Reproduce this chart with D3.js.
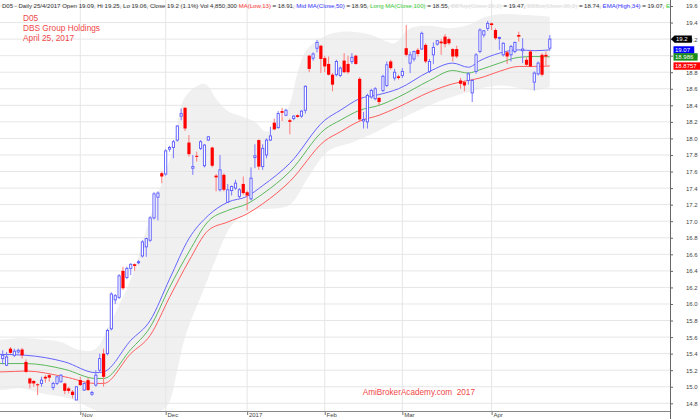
<!DOCTYPE html>
<html><head><meta charset="utf-8">
<script src="https://cdn.jsdelivr.net/npm/d3@7"></script>
<style>body{margin:0;background:#fff}svg{display:block;font-family:"Liberation Sans",Arial,sans-serif}</style>
</head><body><svg id="c" width="700" height="419"></svg>
<script>
// ---------- data ----------
const opens  = [15.34,15.26,15.46,15.38,15.42,15.45,15.30,15.10,15.07,15.03,15.04,15.12,15.14,14.99,15.04,15.06,15.04,14.98,14.94,14.84,
15.08,14.96,15.08,14.91,15.02,15.20,15.40,15.40,15.70,16.05,16.08,16.40,16.32,16.43,16.48,16.50,16.58,16.69,16.77,17.04,17.29,17.58,
17.57,17.87,17.89,17.98,18.27,18.37,17.95,17.64,17.79,17.88,17.67,17.98,17.89,17.55,17.38,17.56,17.23,17.37,17.40,17.30,17.45,
17.35,17.27,17.77,17.98,17.66,17.80,17.98,18.19,18.13,18.33,18.28,18.22,18.24,18.28,18.27,18.34,19.00,18.97,19.09,19.12,
18.97,18.90,18.77,18.77,18.76,18.94,18.90,18.93,19.00,18.72,18.21,18.20,18.50,18.48,18.49,18.58,18.64,18.93,18.73,18.75,
18.76,19.09,18.91,18.96,19.07,19.08,19.13,18.81,19.01,19.14,19.17,19.23,19.20,19.08,19.08,18.70,18.68,18.70,18.55,18.81,19.05,19.25,19.33,
19.39,19.31,19.21,19.01,19.04,19.01,19.05,19.25,19.06,18.95,19.05,18.68,18.78,19.01,19.01,19.09];
const highs  = [15.44,15.42,15.48,15.46,15.46,15.47,15.33,15.11,15.08,15.04,15.12,15.14,15.16,15.06,15.13,15.15,15.05,15.00,14.96,15.01,
15.12,15.05,15.11,14.95,15.20,15.40,15.46,15.70,16.14,16.12,16.36,16.45,16.45,16.49,16.49,16.53,16.77,16.80,17.06,17.35,17.36,17.60,
17.87,17.91,17.98,18.16,18.36,18.38,18.04,17.80,17.84,17.98,17.93,18.03,17.90,17.57,17.80,17.58,17.45,17.43,17.50,17.40,17.54,
17.37,17.65,17.93,17.99,17.93,18.00,18.14,18.24,18.33,18.37,18.36,18.24,18.28,18.29,18.34,18.64,19.01,19.04,19.19,19.13,
19.00,18.99,18.79,18.95,18.87,19.03,19.00,19.03,19.01,18.74,18.32,18.54,18.60,18.62,18.50,18.77,18.93,18.95,18.84,18.77,
18.85,19.37,19.05,19.06,19.09,19.29,19.15,18.96,19.16,19.19,19.20,19.26,19.22,19.09,19.12,18.73,18.70,18.80,18.72,19.03,19.33,19.31,19.42,
19.40,19.33,19.23,19.16,19.06,19.13,19.17,19.29,19.21,18.98,19.07,18.81,18.93,19.03,19.05,19.25];
const lows   = [15.27,15.25,15.40,15.36,15.40,15.34,15.17,14.98,15.00,14.90,15.00,15.05,15.06,14.96,15.02,15.05,14.91,14.92,14.86,14.84,
15.01,14.95,14.95,14.89,15.00,15.18,15.00,15.38,15.68,16.00,16.06,16.17,16.30,16.35,16.40,16.48,16.56,16.57,16.75,17.02,17.01,17.46,
17.55,17.84,17.76,17.96,18.22,18.09,17.78,17.56,17.72,17.86,17.65,17.97,17.65,17.36,17.36,17.36,17.22,17.31,17.38,17.28,17.32,
17.13,17.25,17.64,17.62,17.62,17.76,17.97,18.10,18.12,18.21,18.27,18.05,18.22,18.25,18.25,18.30,18.80,18.94,19.04,18.79,
18.80,18.76,18.57,18.75,18.74,18.79,18.78,18.90,18.89,18.20,18.12,18.12,18.48,18.46,18.40,18.56,18.62,18.83,18.70,18.71,
18.73,18.99,18.79,18.93,18.99,19.07,18.91,18.79,18.90,19.12,19.01,19.10,19.13,18.93,18.97,18.60,18.57,18.65,18.44,18.78,19.03,19.22,19.30,
19.31,19.19,19.07,18.99,18.90,18.93,19.03,19.17,18.91,18.87,18.86,18.58,18.76,18.75,18.88,19.06];
const closes = [15.38,15.36,15.41,15.43,15.44,15.38,15.18,15.04,15.04,15.02,15.08,15.10,15.11,15.04,15.12,15.14,14.95,14.95,14.90,15.00,
15.02,15.04,14.96,14.93,15.14,15.34,15.12,15.68,16.12,16.10,16.34,16.19,16.43,16.48,16.46,16.51,16.75,16.79,17.04,17.33,17.34,17.54,
17.85,17.89,17.96,18.15,18.30,18.12,17.81,17.66,17.78,17.96,17.92,18.02,17.67,17.53,17.62,17.38,17.38,17.42,17.46,17.38,17.34,
17.31,17.52,17.79,17.66,17.88,17.98,18.03,18.11,18.30,18.31,18.34,18.20,18.27,18.26,18.33,18.63,18.84,19.02,19.16,18.96,
18.87,18.77,18.65,18.93,18.85,18.80,18.80,18.98,18.90,18.23,18.23,18.52,18.58,18.60,18.44,18.75,18.89,18.85,18.80,18.73,
18.81,19.01,19.01,19.05,19.02,19.27,18.93,18.93,19.10,19.18,19.15,19.14,19.15,18.99,18.99,18.66,18.64,18.78,18.70,19.01,19.31,19.30,19.39,
19.37,19.21,19.22,19.15,18.99,19.11,19.16,19.23,19.08,18.89,18.87,18.79,18.91,18.77,18.99,19.20];

const monthIdx    = [20, 42, 63, 83, 103, 126];
const monthLabels = ["Nov", "Dec", "2017", "Feb", "Mar", "Apr"];
const yTicks = [19.6,19.4,19.2,19.0,18.8,18.6,18.4,18.2,18.0,17.8,17.6,17.4,17.2,17.0,16.8,16.6,16.4,16.2,16.0,15.8,15.6,15.4,15.2,15.0,14.8];

// EMA channel lines (sampled at bar indices)
const lineIdx  = [-1,0,6,16,24,26,33,38,43,48,53,58,63,67,74,83,87,92,97,102,110,116,120,123,128,133,137,141];
const emaHigh  = [15.39,15.39,15.38,15.30,15.17,15.18,15.56,15.80,16.30,16.79,17.07,17.23,17.30,17.43,17.70,18.22,18.34,18.48,18.53,18.60,18.81,18.91,18.86,18.94,19.03,19.07,19.06,19.07];
const emaClose = [15.28,15.28,15.28,15.21,15.10,15.10,15.45,15.72,16.20,16.63,17.00,17.13,17.21,17.33,17.60,18.11,18.22,18.34,18.40,18.50,18.70,18.82,18.79,18.83,18.91,18.98,18.99,18.986];
const emaLow   = [15.18,15.18,15.19,15.12,15.04,15.04,15.40,15.62,16.08,16.52,16.89,16.99,17.09,17.21,17.48,17.97,18.08,18.21,18.28,18.38,18.56,18.66,18.70,18.73,18.81,18.87,18.87,18.8757];

// Bollinger band edges (sampled at bar indices)
const bbTopIdx = [-1,0,5,10,15,20,24,28,33,38,44,47,52,55,58,62,65,68,71,74,76,78,81,85,90,95,99,101,105,110,115,120,124,128,135,141];
const bbTop    = [15.57,15.57,15.59,15.57,15.54,15.44,15.46,15.80,16.30,17.05,17.90,18.50,18.66,18.48,18.33,18.26,18.20,18.08,18.18,18.42,18.80,19.05,19.18,19.27,19.29,19.25,19.17,19.15,19.33,19.36,19.33,19.37,19.46,19.50,19.49,19.47];
const bbBotIdx = [-1,0,5,10,17,20,25,35,42,45,47,52,55,59,64,69,74,79,84,90,95,102,111,120,128,137,141];
const bbBot    = [14.96,14.96,14.98,14.92,14.86,14.80,14.70,14.65,14.75,15.20,15.60,16.20,16.55,16.95,17.13,17.15,17.20,17.55,17.85,17.95,18.05,18.22,18.42,18.56,18.64,18.58,18.62];

const badgeVals   = [19.2, 19.07, 18.986, 18.8757];
const badgeLabels = ["19.2", "19.07", "18.986", "18.8757"];

const headerParts = [
  ["D05 - Daily 25/4/2017 Open 19.09, Hi 19.25, Lo 19.06, Close 19.2 (1.1%) Vol 4,850,300 ", "#333"],
  ["MA(Low,13)", "#ff4040"], [" = 18.91, ", "#333"],
  ["Mid MA(Close,50)", "#4040ff"], [" = 18.95, ", "#333"],
  ["Long MA(Close,100)", "#40d040"], [" = 18.55, ", "#333"],
  ["BBTop(Close,20,2)", "#dedede"], [" = 19.47, ", "#333"],
  ["BBBot(Close,20,2)", "#dedede"], [" = 18.74, ", "#333"],
  ["EMA(High,34)", "#4040ff"], [" = 19.07, ", "#333"],
  ["EMA1(", "#40d040"]
];

// ---------- drawing ----------
const W = 670, H = 411;
const svg = d3.select("#c");
const x = d3.scaleLinear().domain([0, 141]).range([2.7, 549.8]);
const y = d3.scaleLinear().domain([14.8, 19.6]).range([403.3, 6]);

svg.append("defs").append("clipPath").attr("id", "plot")
  .append("rect").attr("x", 0).attr("y", 0).attr("width", W).attr("height", H);

const plot = svg.append("g").attr("clip-path", "url(#plot)");

// Bollinger band fill
const topPts = bbTopIdx.map((d, i) => [x(d), y(bbTop[i])]);
const botPts = bbBotIdx.map((d, i) => [x(d), y(bbBot[i])]).reverse();
const cr = d3.line().curve(d3.curveCatmullRom.alpha(0.5));
const bandPath = cr(topPts) + "L" + cr(botPts).slice(1) + "Z";
plot.append("path").attr("d", bandPath).attr("fill", "#f0f0f0");

// gridlines
plot.selectAll("line.hg").data(yTicks).join("line").attr("class", "hg")
  .attr("x1", 0).attr("x2", W).attr("y1", d => y(d)).attr("y2", d => y(d))
  .attr("stroke", "#e6e6e6").attr("stroke-width", 1);
plot.selectAll("line.vg").data(monthIdx).join("line").attr("class", "vg")
  .attr("x1", d => x(d)).attr("x2", d => x(d)).attr("y1", 0).attr("y2", H)
  .attr("stroke", "#e6e6e6").attr("stroke-width", 1);

// EMA lines
const ml = d3.line().x(d => x(d[0])).y(d => y(d[1])).curve(d3.curveMonotoneX);
[[emaHigh, "#6464ff"], [emaClose, "#5cb85c"], [emaLow, "#ff5c5c"]].forEach(([vals, col]) => {
  plot.append("path").attr("d", ml(lineIdx.map((d, i) => [d, vals[i]])))
    .attr("fill", "none").attr("stroke", col).attr("stroke-width", 1);
});

// candles
const bars = d3.range(closes.length).map(i => ({i, o: opens[i], h: highs[i], l: lows[i], c: closes[i]}));
const cg = plot.append("g");
cg.selectAll("line.wick").data(bars).join("line").attr("class", "wick")
  .attr("x1", d => x(d.i)).attr("x2", d => x(d.i))
  .attr("y1", d => y(d.h)).attr("y2", d => y(d.l))
  .attr("stroke", d => d.c >= d.o ? "#7a7aff" : "#ff7a7a").attr("stroke-width", 1);
cg.selectAll("rect.body").data(bars).join("rect").attr("class", "body")
  .attr("x", d => d.c >= d.o ? x(d.i) - 1.1 : x(d.i) - 1.6)
  .attr("width", d => d.c >= d.o ? 2.2 : 3.2)
  .attr("y", d => y(Math.max(d.o, d.c)))
  .attr("height", d => Math.max(1, Math.abs(y(d.o) - y(d.c))))
  .attr("fill", d => d.c >= d.o ? "#ffffff" : "#ff0000")
  .attr("stroke", d => d.c >= d.o ? "#5a5aff" : "none")
  .attr("stroke-width", 0.9);

// header
const ht = plot.append("text").attr("x", 2).attr("y", 7.5).attr("font-size", 6.05).style("white-space", "pre");
headerParts.forEach(([t, col]) => ht.append("tspan").attr("fill", col).text(t));

// title
const tcol = "#f04848";
[["D05", 20.5], ["DBS Group Holdings", 30.5], ["April 25, 2017", 40.5]].forEach(([t, yy]) => {
  svg.append("text").attr("x", 23).attr("y", yy).attr("font-size", 8.3).attr("fill", tcol).text(t);
});
svg.append("text").attr("x", 362.7).attr("y", 395).attr("font-size", 8.2).attr("fill", tcol)
  .style("white-space", "pre").text("AmiBrokerAcademy.com  2017");

// right axis
const ya = svg.append("g").attr("transform", `translate(${W},0)`)
  .call(d3.axisRight(y).tickValues(yTicks).tickFormat(d3.format(".1f")).tickSize(3).tickPadding(13));
ya.select(".domain").remove();
ya.selectAll(".tick line").attr("stroke", "#666");
ya.selectAll(".tick text").attr("font-size", 6).attr("fill", "#444").attr("font-family", "Liberation Sans, Arial, sans-serif");
svg.append("line").attr("x1", W + 0.5).attr("x2", W + 0.5).attr("y1", 0).attr("y2", 419).attr("stroke", "#666");

// bottom axis
const xa = svg.append("g").attr("transform", `translate(0,${H})`)
  .call(d3.axisBottom(x).tickValues(monthIdx).tickFormat((d, i) => monthLabels[i]).tickSize(4));
xa.select(".domain").remove();
xa.selectAll(".tick line").attr("stroke", "#777");
xa.selectAll(".tick text").attr("font-size", 6).attr("fill", "#444").attr("text-anchor", "start")
  .attr("x", 1.3).attr("y", 6.3).attr("dy", 0).attr("font-family", "Liberation Sans, Arial, sans-serif");
svg.append("line").attr("x1", 0).attr("x2", W).attr("y1", H + 0.5).attr("y2", H + 0.5).attr("stroke", "#888");

// value badges
const badgeFill = ["#000000", "#0000ff", "#1a8c1a", "#ff0000"];
const bg = svg.append("g");
badgeVals.forEach((v, k) => {
  const yy = y(v);
  const w = badgeLabels[k].length * 3.35 + 4;
  if (k === 0) {
    bg.append("path").attr("d", `M${W + 1},${yy} L${W + 4.5},${yy - 3.6} L${W + 4.5 + w},${yy - 3.6} L${W + 4.5 + w},${yy + 3.6} L${W + 4.5},${yy + 3.6} Z`)
      .attr("fill", badgeFill[k]);
    bg.append("text").attr("x", W + 6).attr("y", yy + 2.2).attr("font-size", 6).attr("fill", "#fff").text(badgeLabels[k]);
  } else {
    bg.append("rect").attr("x", W + 3.5).attr("y", yy - 3.6).attr("width", w).attr("height", 7.4).attr("fill", badgeFill[k]);
    bg.append("text").attr("x", W + 5).attr("y", yy + 2.2).attr("font-size", 6).attr("fill", "#fff").text(badgeLabels[k]);
  }
});
</script></body></html>
